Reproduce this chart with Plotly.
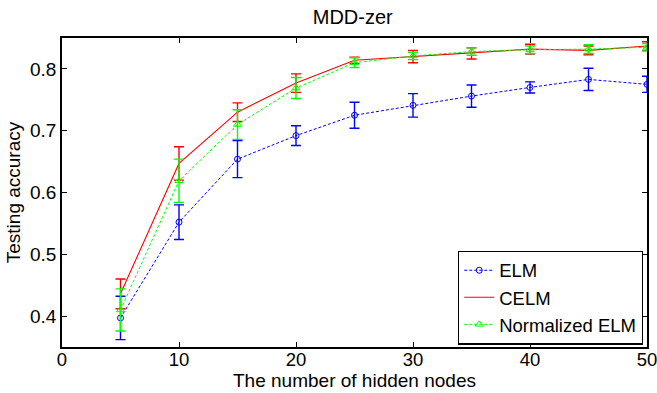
import plotly.graph_objects as go

nodes = [5, 10, 15, 20, 25, 30, 35, 40, 45, 50]

elm_mean = [0.397, 0.552, 0.654, 0.692, 0.725, 0.741, 0.756, 0.770, 0.783, 0.775]
elm_err = [0.035, 0.028, 0.030, 0.016, 0.021, 0.019, 0.018, 0.009, 0.018, 0.013]

celm_mean = [0.436, 0.647, 0.730, 0.777, 0.814, 0.820, 0.825, 0.832, 0.830, 0.837]
celm_err = [0.024, 0.027, 0.015, 0.015, 0.005, 0.010, 0.009, 0.008, 0.007, 0.007]

nelm_mean = [0.410, 0.619, 0.710, 0.769, 0.810, 0.821, 0.828, 0.831, 0.832, 0.835]
nelm_err = [0.034, 0.035, 0.024, 0.017, 0.008, 0.006, 0.006, 0.006, 0.007, 0.006]

series_names = ["ELM", "CELM", "Normalized ELM"]
x_ticks = [0, 10, 20, 30, 40, 50]
y_ticks = [0.4, 0.5, 0.6, 0.7, 0.8]
y_tick_labels = ["0.4", "0.5", "0.6", "0.7", "0.8"]

FONT = "Liberation Sans, Arial, sans-serif"

fig = go.Figure()

fig.add_trace(go.Scatter(
    x=nodes, y=elm_mean, name=series_names[0], mode="lines+markers",
    line=dict(color="#0000ff", width=1, dash="3px,2px"),
    marker=dict(symbol="circle-open", size=6, color="#0000ff", line=dict(width=1)),
    error_y=dict(type="data", array=elm_err, color="#0000ff", thickness=1.4, width=5),
))
fig.add_trace(go.Scatter(
    x=nodes, y=celm_mean, name=series_names[1], mode="lines",
    line=dict(color="#ff0000", width=1.1),
    error_y=dict(type="data", array=celm_err, color="#ff0000", thickness=1.4, width=5),
))
fig.add_trace(go.Scatter(
    x=nodes, y=nelm_mean, name=series_names[2], mode="lines+markers",
    line=dict(color="#00ff00", width=1, dash="3px,2px"),
    marker=dict(symbol="triangle-up-open", size=7, color="#00ff00", line=dict(width=1)),
    error_y=dict(type="data", array=nelm_err, color="#00ff00", thickness=1.4, width=5),
))

axis_common = dict(
    showgrid=False, zeroline=False, showline=True, linecolor="black", linewidth=1.6,
    mirror="ticks", ticks="inside", ticklen=5, tickcolor="black", tickwidth=1,
    ticklabeloverflow="allow",
)

fig.update_layout(
    width=657, height=393,
    margin=dict(l=62, r=10, t=38, b=46, autoexpand=False),
    paper_bgcolor="white", plot_bgcolor="white",
    title=dict(text="MDD-zer", xref="paper", x=0.497, xanchor="center",
               y=0.958, yanchor="middle",
               font=dict(family=FONT, size=20, color="black")),
    xaxis=dict(range=[0, 50], tickvals=x_ticks, automargin=True,
               ticklabelstandoff=-5,
               tickfont=dict(family=FONT, size=18.5, color="black"),
               title=dict(text="The number of hidden nodes", standoff=0,
                          font=dict(family=FONT, size=19, color="black")),
               **axis_common),
    yaxis=dict(range=[0.35, 0.85], tickvals=y_ticks, ticktext=y_tick_labels,
               automargin=False,
               tickfont=dict(family=FONT, size=19, color="black"),
               title=dict(text="Testing accuracy", standoff=4,
                          font=dict(family=FONT, size=19, color="black")),
               **axis_common),
    legend=dict(x=0.9932, y=0.008, xanchor="right", yanchor="bottom",
                bgcolor="white", bordercolor="black", borderwidth=1.2,
                font=dict(family=FONT, size=18.5, color="black"),
                itemwidth=30, tracegroupgap=0),
    showlegend=True,
)

fig.write_html("out.html")
